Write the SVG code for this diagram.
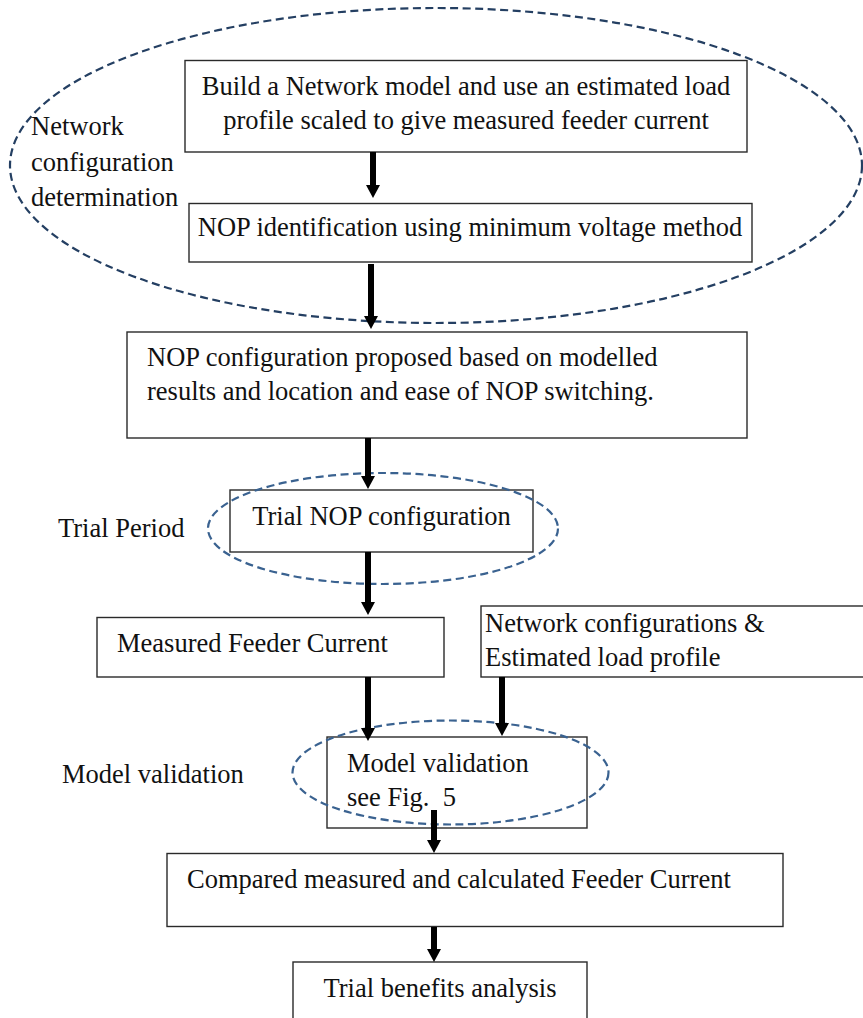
<svg xmlns="http://www.w3.org/2000/svg" width="863" height="1018" viewBox="0 0 863 1018">
<style>
.box{fill:#fff;stroke:#2a2a2a;stroke-width:1.4}
.t{font-family:"Liberation Serif","Times New Roman",serif;font-size:26.5px;fill:#111}
.m{text-anchor:middle}
.grp{fill:none;stroke-width:2.2;stroke-dasharray:8 4.5}
.arr{stroke:#000;stroke-width:6;fill:none}
</style>
<defs>
<marker id="ah" markerUnits="userSpaceOnUse" markerWidth="16" markerHeight="16" viewBox="0 -8 16 16" refX="1" refY="0" orient="auto" overflow="visible">
<path d="M0,-7 L13,0 L0,7 z" fill="#000"/>
</marker>
</defs>
<rect width="863" height="1018" fill="#fff"/>

<g id="n1"><rect class="box" x="185" y="60.5" width="562" height="91.5"/>
<text class="t m" x="466" y="95">Build a Network model and use an estimated load</text>
<text class="t m" x="466" y="129">profile scaled to give measured feeder current</text></g>

<g id="n2"><rect class="box" x="189" y="203.5" width="563" height="58.5"/>
<text class="t m" x="470" y="236">NOP identification using minimum voltage method</text></g>

<g id="n3"><rect class="box" x="127" y="332" width="620" height="106"/>
<text class="t" x="147" y="366">NOP configuration proposed based on modelled</text>
<text class="t" x="147" y="400">results and location and ease of NOP switching.</text></g>

<g id="n4"><rect class="box" x="230" y="490" width="303" height="62"/>
<text class="t m" x="381.5" y="525">Trial NOP configuration</text></g>

<g id="n5"><rect class="box" x="97" y="617.5" width="347" height="59.5"/>
<text class="t" x="117" y="651.5">Measured Feeder Current</text></g>

<g id="n6"><rect class="box" x="481" y="606" width="392" height="71"/>
<text class="t" x="485" y="631.5">Network configurations &amp;</text>
<text class="t" x="485" y="666">Estimated load profile</text></g>

<g id="n7"><rect class="box" x="327" y="737" width="260" height="91"/>
<text class="t" x="347" y="771.5">Model validation</text>
<text class="t" x="347" y="806" xml:space="preserve">see Fig.  5</text></g>

<g id="n8"><rect class="box" x="167" y="853.5" width="616" height="73"/>
<text class="t" x="187" y="888">Compared measured and calculated Feeder Current</text></g>

<g id="n9"><rect class="box" x="293" y="962" width="294" height="70"/>
<text class="t m" x="440" y="996.5">Trial benefits analysis</text></g>

<g id="groups">
<ellipse class="grp" stroke="#243f62" cx="436" cy="165.5" rx="426" ry="157.5"/>
<ellipse class="grp" stroke="#3a6290" cx="383" cy="528.5" rx="175" ry="55.5"/>
<ellipse class="grp" stroke="#3a6290" cx="450.5" cy="772.5" rx="158" ry="52"/>
</g>

<g id="labels">
<text class="t" x="31" y="135">Network</text>
<text class="t" x="31" y="171">configuration</text>
<text class="t" x="31" y="206">determination</text>
<text class="t" x="58" y="536.5">Trial Period</text>
<text class="t" x="62" y="782.5">Model validation</text>
</g>

<g id="connectors">
<line class="arr" x1="373" y1="152" x2="373" y2="186" marker-end="url(#ah)"/>
<line class="arr" x1="371" y1="264" x2="371" y2="317" marker-end="url(#ah)"/>
<line class="arr" x1="368" y1="438" x2="368" y2="477" marker-end="url(#ah)"/>
<line class="arr" x1="368" y1="552" x2="368" y2="603" marker-end="url(#ah)"/>
<line class="arr" x1="368" y1="677" x2="368" y2="729" marker-end="url(#ah)"/>
<line class="arr" x1="502" y1="677" x2="502" y2="724" marker-end="url(#ah)"/>
<line class="arr" x1="434" y1="810" x2="434" y2="841" marker-end="url(#ah)"/>
<line class="arr" x1="434" y1="927" x2="434" y2="950" marker-end="url(#ah)"/>
</g>
</svg>
